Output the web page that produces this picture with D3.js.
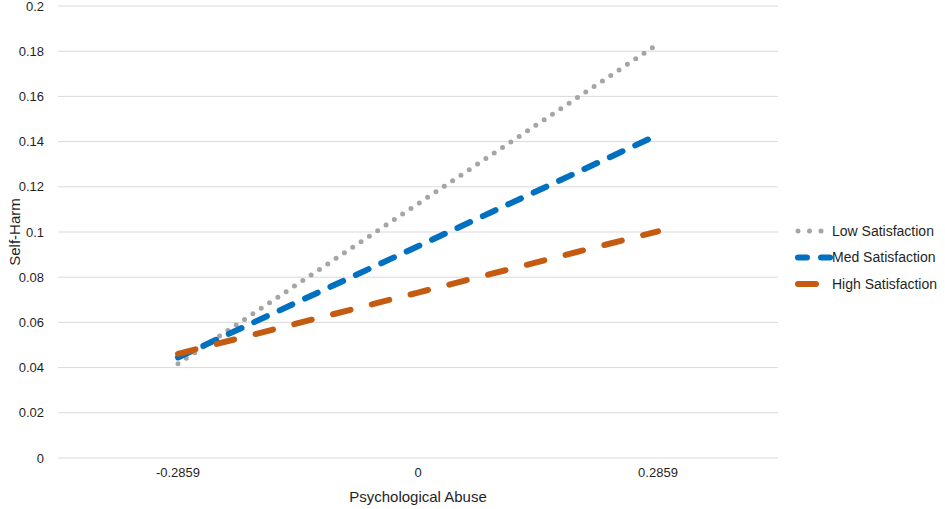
<!DOCTYPE html>
<html>
<head>
<meta charset="utf-8">
<script src="https://cdn.jsdelivr.net/npm/d3@7"></script>
<style>
  body { margin: 0; background: #fff; }
  text { font-family: "Liberation Sans", Arial, sans-serif; fill: #1f1f1f; }
</style>
</head>
<body>
<div id="chart"></div>
<script>
var categories = ["-0.2859", "0", "0.2859"];
var lowSat = [0.0417, 0.1125, 0.1832];
var medSat = [0.0445, 0.0937, 0.143];
var highSat = [0.0461, 0.0732, 0.1003];
var seriesNames = ["Low Satisfaction", "Med Satisfaction", "High Satisfaction"];
var yTicks = [0, 0.02, 0.04, 0.06, 0.08, 0.1, 0.12, 0.14, 0.16, 0.18, 0.2];

var width = 945, height = 509;
var plot = { left: 58, right: 778, top: 6, bottom: 458 };

var svg = d3.select("#chart").append("svg")
    .attr("width", width)
    .attr("height", height);

var x = d3.scaleBand().domain(categories).range([plot.left, plot.right]);
var y = d3.scaleLinear().domain([0, 0.2]).range([plot.bottom, plot.top]);

// gridlines
svg.append("g").selectAll("line")
    .data(yTicks)
    .enter().append("line")
    .attr("x1", plot.left).attr("x2", plot.right)
    .attr("y1", function(d) { return y(d); })
    .attr("y2", function(d) { return y(d); })
    .attr("stroke", "#d9d9d9")
    .attr("stroke-width", 1);

// y tick labels
svg.append("g").selectAll("text")
    .data(yTicks)
    .enter().append("text")
    .attr("x", 44)
    .attr("y", function(d) { return y(d); })
    .attr("dy", "0.35em")
    .attr("text-anchor", "end")
    .style("font-size", "13px")
    .text(function(d) { return d3.format("")(d); });

// x tick labels
svg.append("g").selectAll("text")
    .data(categories)
    .enter().append("text")
    .attr("x", function(d) { return x(d) + x.bandwidth() / 2; })
    .attr("y", 477)
    .attr("text-anchor", "middle")
    .style("font-size", "13px")
    .text(function(d) { return d; });

// axis titles
svg.append("text")
    .attr("x", (plot.left + plot.right) / 2)
    .attr("y", 502)
    .attr("text-anchor", "middle")
    .style("font-size", "15px")
    .text("Psychological Abuse");

svg.append("text")
    .attr("transform", "translate(20," + ((plot.top + plot.bottom) / 2) + ") rotate(-90)")
    .attr("text-anchor", "middle")
    .style("font-size", "15px")
    .text("Self-Harm");

var series = [
    { name: seriesNames[0], values: lowSat, color: "#a5a5a5", width: 5, dash: "0 10", legendDash: "0 11.5", legendEnd: 822 },
    { name: seriesNames[1], values: medSat, color: "#0070c0", width: 6, dash: "14 14", legendDash: "9 14", legendEnd: 830 },
    { name: seriesNames[2], values: highSat, color: "#c55a11", width: 6, dash: "18 22", legendDash: "18 30", legendEnd: 816 }
];

var line = d3.line()
    .x(function(d, i) { return x(categories[i]) + x.bandwidth() / 2; })
    .y(function(d) { return y(d); });

svg.append("g").selectAll("path")
    .data(series)
    .enter().append("path")
    .attr("d", function(s) { return line(s.values); })
    .attr("fill", "none")
    .attr("stroke", function(s) { return s.color; })
    .attr("stroke-width", function(s) { return s.width; })
    .attr("stroke-linecap", "round")
    .attr("stroke-dasharray", function(s) { return s.dash; });

// legend
var legend = svg.append("g").selectAll("g")
    .data(series)
    .enter().append("g")
    .attr("transform", function(s, i) { return "translate(0," + (231 + i * 26.5) + ")"; });

legend.append("line")
    .attr("x1", 798).attr("x2", function(s) { return s.legendEnd; })
    .attr("y1", 0).attr("y2", 0)
    .attr("stroke", function(s) { return s.color; })
    .attr("stroke-width", function(s) { return s.width; })
    .attr("stroke-linecap", "round")
    .attr("stroke-dasharray", function(s) { return s.legendDash; });

legend.append("text")
    .attr("x", 832)
    .attr("y", 0)
    .attr("dy", "0.35em")
    .style("font-size", "14px")
    .text(function(s) { return s.name; });
</script>
</body>
</html>
